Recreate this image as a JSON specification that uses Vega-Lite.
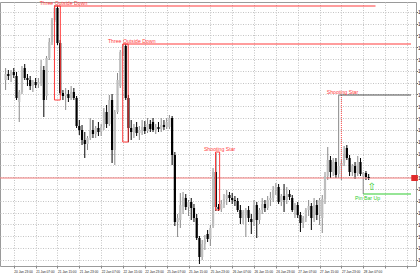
{
"$schema": "https://vega.github.io/schema/vega-lite/v6.json",
"width": 416, "height": 264,
"autosize": {"type": "none"},
"padding": {"left": 0, "top": 2, "right": 4, "bottom": 14},
"background": "white",
"config": {"view": {"stroke": "#9a9a9a", "strokeWidth": 1}, "font": "Liberation Sans"},
"resolve": {"axis": {"x": "independent", "y": "independent"}},
"datasets": {
"candles": [
{"i":0,"o":1.0886,"h":1.0898,"l":1.0876,"c":1.0892},
{"i":1,"o":1.0892,"h":1.0896,"l":1.0886,"c":1.0890},
{"i":2,"o":1.0890,"h":1.0896,"l":1.0884,"c":1.0894},
{"i":3,"o":1.0894,"h":1.0898,"l":1.0888,"c":1.0891},
{"i":4,"o":1.0890,"h":1.0894,"l":1.0866,"c":1.0868},
{"i":5,"o":1.0864,"h":1.0876,"l":1.0844,"c":1.0874},
{"i":6,"o":1.0874,"h":1.0900,"l":1.0872,"c":1.0896},
{"i":7,"o":1.0898,"h":1.0902,"l":1.0886,"c":1.0888},
{"i":8,"o":1.0888,"h":1.0892,"l":1.0880,"c":1.0886},
{"i":9,"o":1.0886,"h":1.0890,"l":1.0876,"c":1.0880},
{"i":10,"o":1.0880,"h":1.0886,"l":1.0874,"c":1.0884},
{"i":11,"o":1.0884,"h":1.0888,"l":1.0878,"c":1.0881},
{"i":12,"o":1.0882,"h":1.0888,"l":1.0878,"c":1.0884},
{"i":13,"o":1.0882,"h":1.0906,"l":1.0880,"c":1.0900},
{"i":14,"o":1.0896,"h":1.0900,"l":1.0849,"c":1.0866},
{"i":15,"o":1.0870,"h":1.0910,"l":1.0866,"c":1.0908},
{"i":16,"o":1.0908,"h":1.0928,"l":1.0906,"c":1.0924},
{"i":17,"o":1.0924,"h":1.0948,"l":1.0921,"c":1.0946},
{"i":18,"o":1.0946,"h":1.0961,"l":1.0944,"c":1.0958},
{"i":19,"o":1.0958,"h":1.0960,"l":1.0921,"c":1.0923},
{"i":20,"o":1.0923,"h":1.0926,"l":1.0871,"c":1.0873},
{"i":21,"o":1.0873,"h":1.0876,"l":1.0866,"c":1.0870},
{"i":22,"o":1.0870,"h":1.0878,"l":1.0856,"c":1.0872},
{"i":23,"o":1.0872,"h":1.0876,"l":1.0864,"c":1.0868},
{"i":24,"o":1.0868,"h":1.0880,"l":1.0866,"c":1.0874},
{"i":25,"o":1.0874,"h":1.0878,"l":1.0866,"c":1.0868},
{"i":26,"o":1.0868,"h":1.0870,"l":1.0838,"c":1.0840},
{"i":27,"o":1.0840,"h":1.0846,"l":1.0831,"c":1.0836},
{"i":28,"o":1.0836,"h":1.0841,"l":1.0821,"c":1.0826},
{"i":29,"o":1.0826,"h":1.0834,"l":1.0808,"c":1.0822},
{"i":30,"o":1.0822,"h":1.0830,"l":1.0816,"c":1.0828},
{"i":31,"o":1.0828,"h":1.0848,"l":1.0826,"c":1.0836},
{"i":32,"o":1.0836,"h":1.0846,"l":1.0828,"c":1.0832},
{"i":33,"o":1.0832,"h":1.0840,"l":1.0828,"c":1.0838},
{"i":34,"o":1.0838,"h":1.0844,"l":1.0830,"c":1.0834},
{"i":35,"o":1.0834,"h":1.0842,"l":1.0830,"c":1.0839},
{"i":36,"o":1.0839,"h":1.0858,"l":1.0836,"c":1.0854},
{"i":37,"o":1.0854,"h":1.0861,"l":1.0838,"c":1.0842},
{"i":38,"o":1.0842,"h":1.0871,"l":1.0840,"c":1.0866},
{"i":39,"o":1.0866,"h":1.0872,"l":1.0803,"c":1.0816},
{"i":40,"o":1.0816,"h":1.0856,"l":1.0801,"c":1.0854},
{"i":41,"o":1.0854,"h":1.0893,"l":1.0852,"c":1.0886},
{"i":42,"o":1.0880,"h":1.0916,"l":1.0878,"c":1.0914},
{"i":43,"o":1.0914,"h":1.0922,"l":1.0910,"c":1.0920},
{"i":44,"o":1.0920,"h":1.0922,"l":1.0866,"c":1.0868},
{"i":45,"o":1.0868,"h":1.0871,"l":1.0824,"c":1.0838},
{"i":46,"o":1.0838,"h":1.0846,"l":1.0826,"c":1.0834},
{"i":47,"o":1.0834,"h":1.0842,"l":1.0828,"c":1.0839},
{"i":48,"o":1.0839,"h":1.0844,"l":1.0830,"c":1.0833},
{"i":49,"o":1.0833,"h":1.0840,"l":1.0826,"c":1.0836},
{"i":50,"o":1.0836,"h":1.0846,"l":1.0831,"c":1.0839},
{"i":51,"o":1.0839,"h":1.0845,"l":1.0832,"c":1.0835},
{"i":52,"o":1.0835,"h":1.0848,"l":1.0833,"c":1.0842},
{"i":53,"o":1.0842,"h":1.0846,"l":1.0834,"c":1.0837},
{"i":54,"o":1.0844,"h":1.0848,"l":1.0834,"c":1.0836},
{"i":55,"o":1.0836,"h":1.0842,"l":1.0832,"c":1.0839},
{"i":56,"o":1.0839,"h":1.0844,"l":1.0834,"c":1.0837},
{"i":57,"o":1.0837,"h":1.0848,"l":1.0834,"c":1.0841},
{"i":58,"o":1.0841,"h":1.0846,"l":1.0836,"c":1.0839},
{"i":59,"o":1.0839,"h":1.0848,"l":1.0837,"c":1.0844},
{"i":60,"o":1.0839,"h":1.0851,"l":1.0837,"c":1.0848},
{"i":61,"o":1.0848,"h":1.0850,"l":1.0801,"c":1.0811},
{"i":62,"o":1.0811,"h":1.0814,"l":1.0740,"c":1.0744},
{"i":63,"o":1.0744,"h":1.0752,"l":1.0729,"c":1.0748},
{"i":64,"o":1.0746,"h":1.0773,"l":1.0738,"c":1.0761},
{"i":65,"o":1.0760,"h":1.0774,"l":1.0752,"c":1.0769},
{"i":66,"o":1.0768,"h":1.0772,"l":1.0756,"c":1.0759},
{"i":67,"o":1.0759,"h":1.0766,"l":1.0750,"c":1.0764},
{"i":68,"o":1.0764,"h":1.0768,"l":1.0746,"c":1.0758},
{"i":69,"o":1.0758,"h":1.0762,"l":1.0744,"c":1.0748},
{"i":70,"o":1.0748,"h":1.0752,"l":1.0726,"c":1.0728},
{"i":71,"o":1.0728,"h":1.0730,"l":1.0702,"c":1.0709},
{"i":72,"o":1.0709,"h":1.0726,"l":1.0706,"c":1.0722},
{"i":73,"o":1.0722,"h":1.0731,"l":1.0716,"c":1.0726},
{"i":74,"o":1.0732,"h":1.0736,"l":1.0724,"c":1.0727},
{"i":75,"o":1.0727,"h":1.0741,"l":1.0720,"c":1.0738},
{"i":76,"o":1.0740,"h":1.0798,"l":1.0738,"c":1.0794},
{"i":77,"o":1.0794,"h":1.0813,"l":1.0755,"c":1.0759},
{"i":78,"o":1.0759,"h":1.0762,"l":1.0755,"c":1.0757},
{"i":79,"o":1.0757,"h":1.0766,"l":1.0754,"c":1.0762},
{"i":80,"o":1.0762,"h":1.0772,"l":1.0758,"c":1.0767},
{"i":81,"o":1.0767,"h":1.0776,"l":1.0761,"c":1.0771},
{"i":82,"o":1.0771,"h":1.0774,"l":1.0764,"c":1.0768},
{"i":83,"o":1.0768,"h":1.0773,"l":1.0762,"c":1.0766},
{"i":84,"o":1.0766,"h":1.0770,"l":1.0760,"c":1.0765},
{"i":85,"o":1.0765,"h":1.0768,"l":1.0754,"c":1.0756},
{"i":86,"o":1.0756,"h":1.0761,"l":1.0742,"c":1.0748},
{"i":87,"o":1.0748,"h":1.0756,"l":1.0742,"c":1.0754},
{"i":88,"o":1.0751,"h":1.0758,"l":1.0729,"c":1.0756},
{"i":89,"o":1.0756,"h":1.0760,"l":1.0744,"c":1.0748},
{"i":90,"o":1.0747,"h":1.0752,"l":1.0732,"c":1.0744},
{"i":91,"o":1.0744,"h":1.0766,"l":1.0740,"c":1.0761},
{"i":92,"o":1.0761,"h":1.0764,"l":1.0728,"c":1.0746},
{"i":93,"o":1.0746,"h":1.0758,"l":1.0742,"c":1.0756},
{"i":94,"o":1.0756,"h":1.0768,"l":1.0752,"c":1.0762},
{"i":95,"o":1.0762,"h":1.0766,"l":1.0754,"c":1.0758},
{"i":96,"o":1.0758,"h":1.0770,"l":1.0756,"c":1.0766},
{"i":97,"o":1.0766,"h":1.0774,"l":1.0760,"c":1.0768},
{"i":98,"o":1.0768,"h":1.0780,"l":1.0764,"c":1.0776},
{"i":99,"o":1.0776,"h":1.0783,"l":1.0771,"c":1.0779},
{"i":100,"o":1.0779,"h":1.0782,"l":1.0762,"c":1.0764},
{"i":101,"o":1.0764,"h":1.0772,"l":1.0760,"c":1.0770},
{"i":102,"o":1.0770,"h":1.0782,"l":1.0754,"c":1.0766},
{"i":103,"o":1.0766,"h":1.0779,"l":1.0762,"c":1.0772},
{"i":104,"o":1.0772,"h":1.0776,"l":1.0766,"c":1.0769},
{"i":105,"o":1.0768,"h":1.0771,"l":1.0754,"c":1.0756},
{"i":106,"o":1.0756,"h":1.0763,"l":1.0748,"c":1.0761},
{"i":107,"o":1.0761,"h":1.0764,"l":1.0748,"c":1.0751},
{"i":108,"o":1.0751,"h":1.0754,"l":1.0734,"c":1.0743},
{"i":109,"o":1.0743,"h":1.0750,"l":1.0738,"c":1.0748},
{"i":110,"o":1.0748,"h":1.0758,"l":1.0744,"c":1.0756},
{"i":111,"o":1.0756,"h":1.0766,"l":1.0750,"c":1.0760},
{"i":112,"o":1.0760,"h":1.0763,"l":1.0736,"c":1.0748},
{"i":113,"o":1.0748,"h":1.0768,"l":1.0744,"c":1.0761},
{"i":114,"o":1.0761,"h":1.0766,"l":1.0746,"c":1.0751},
{"i":115,"o":1.0751,"h":1.0768,"l":1.0741,"c":1.0766},
{"i":116,"o":1.0748,"h":1.0771,"l":1.0733,"c":1.0767},
{"i":117,"o":1.0767,"h":1.0794,"l":1.0762,"c":1.0790},
{"i":118,"o":1.0790,"h":1.0819,"l":1.0786,"c":1.0806},
{"i":119,"o":1.0806,"h":1.0810,"l":1.0788,"c":1.0794},
{"i":120,"o":1.0794,"h":1.0808,"l":1.0790,"c":1.0804},
{"i":121,"o":1.0804,"h":1.0808,"l":1.0788,"c":1.0791},
{"i":122,"o":1.0792,"h":1.0871,"l":1.0788,"c":1.0800},
{"i":123,"o":1.0800,"h":1.0806,"l":1.0786,"c":1.0803},
{"i":124,"o":1.0803,"h":1.0820,"l":1.0800,"c":1.0811},
{"i":125,"o":1.0818,"h":1.0821,"l":1.0806,"c":1.0808},
{"i":126,"o":1.0808,"h":1.0811,"l":1.0790,"c":1.0794},
{"i":127,"o":1.0794,"h":1.0802,"l":1.0790,"c":1.0800},
{"i":128,"o":1.0800,"h":1.0804,"l":1.0787,"c":1.0793},
{"i":129,"o":1.0793,"h":1.0810,"l":1.0790,"c":1.0804},
{"i":130,"o":1.0804,"h":1.0808,"l":1.0790,"c":1.0792},
{"i":131,"o":1.0790,"h":1.0794,"l":1.0772,"c":1.0793},
{"i":132,"o":1.0793,"h":1.0795,"l":1.0786,"c":1.0789},
{"i":133,"o":1.0789,"h":1.0792,"l":1.0786,"c":1.0788}
],
"redLines": [{"x1":18,"x2":135.5,"p":1.0960},{"x1":43,"x2":148.5,"p":1.0922}],
"redBoxes": [{"x1":17.9,"x2":20.05,"p1":1.0960,"p2":1.0866},{"x1":42.9,"x2":44.9,"p1":1.0922,"p2":1.0824},{"x1":76.9,"x2":78.4,"p1":1.0814,"p2":1.0756}],
"redLabels": [{"x":21.2,"p":1.0960,"t":"Three Outside Down"},{"x":46.2,"p":1.0922,"t":"Three Outside Down"},{"x":78.4,"p":1.0814,"t":"Shooting Star"},{"x":123.4,"p":1.0871,"t":"Shooting Star"}]
},
"layer": [
{"data": {"name": "candles"},
 "mark": {"type": "rule", "strokeWidth": 1},
 "encoding": {
  "x": {"field": "i", "type": "quantitative", "scale": {"domain": [-0.22, 148.5], "nice": false, "zero": false},
    "axis": {"values": [3,11,19,27,35,43,51,59,67,75,83,91,99,107,115,123,131,139,147],
      "labelExpr": "['20 Jan 23:00','21 Jan 07:00','21 Jan 15:00','21 Jan 23:00','22 Jan 07:00','22 Jan 15:00','22 Jan 23:00','25 Jan 07:00','25 Jan 15:00','25 Jan 23:00','26 Jan 07:00','26 Jan 15:00','26 Jan 23:00','27 Jan 07:00','27 Jan 15:00','27 Jan 23:00','28 Jan 07:00'][round((datum.value-3)/8)] || ''",
      "labelFontSize": 3.2, "labelAlign": "left", "labelPadding": 1, "tickSize": 2, "tickColor": "#888", "domain": false, "grid": true, "gridColor": "#c4c4c4", "gridDash": [1, 1.5], "title": null, "labelColor": "#222", "labelOverlap": false, "labelBound": false, "labelFlush": false}},
  "y": {"field": "l", "type": "quantitative", "scale": {"domain": [1.07, 1.0964], "nice": false, "zero": false},
    "axis": {"orient": "right", "values": [1.07063,1.07181,1.07299,1.07417,1.07535,1.07653,1.07771,1.07889,1.08007,1.08125,1.08243,1.08361,1.08479,1.08597,1.08715,1.08833,1.08951,1.09069,1.09187,1.09305,1.09423,1.09541],
     "format": ".4f", "labelFontSize": 5, "labelPadding": 0, "tickSize": 1.5, "tickColor": "#666", "domain": false, "grid": true, "gridColor": "#c4c4c4", "gridDash": [1, 1.5], "title": null, "labelColor": "#222", "labelOverlap": false, "labelBound": false, "labelFlush": false}},
  "y2": {"field": "h"},
  "color": {"condition": {"test": "datum.c >= datum.o", "value": "#8a8a8a"}, "value": "#000000"}}},
{"data": {"values": [{"p":1.0788}]},
 "mark": {"type": "rule", "color": "#f07a7a", "strokeWidth": 1},
 "encoding": {"y": {"field": "p", "type": "quantitative", "scale": {"domain": [1.07, 1.0964], "nice": false, "zero": false}, "axis": null}}},
{"data": {"name": "candles"},
 "mark": {"type": "bar", "width": 2.2},
 "encoding": {
  "x": {"field": "i", "type": "quantitative", "scale": {"domain": [-0.22, 148.5], "nice": false, "zero": false}, "axis": null},
  "y": {"field": "o", "type": "quantitative", "scale": {"domain": [1.07, 1.0964], "nice": false, "zero": false}, "axis": null},
  "y2": {"field": "c"},
  "color": {"condition": {"test": "datum.c >= datum.o", "value": "#bdbdbd"}, "value": "#000000"}}},
{"data": {"name": "redLines"},
 "mark": {"type": "rule", "color": "#ff3c3c", "strokeWidth": 1.2},
 "encoding": {
  "x": {"field": "x1", "type": "quantitative", "scale": {"domain": [-0.22, 148.5], "nice": false, "zero": false}, "axis": null},
  "x2": {"field": "x2"},
  "y": {"field": "p", "type": "quantitative", "scale": {"domain": [1.07, 1.0964], "nice": false, "zero": false}, "axis": null}}},
{"data": {"name": "redBoxes"},
 "mark": {"type": "rect", "filled": false, "stroke": "#ff3c3c", "strokeWidth": 1},
 "encoding": {
  "x": {"field": "x1", "type": "quantitative", "scale": {"domain": [-0.22, 148.5], "nice": false, "zero": false}, "axis": null},
  "x2": {"field": "x2"},
  "y": {"field": "p1", "type": "quantitative", "scale": {"domain": [1.07, 1.0964], "nice": false, "zero": false}, "axis": null},
  "y2": {"field": "p2"}}},
{"data": {"values": [{"x":123,"p1":1.0871,"p2":1.0788}]},
 "mark": {"type": "rule", "color": "#ff5050", "strokeWidth": 1, "strokeDash": [1, 1]},
 "encoding": {
  "x": {"field": "x", "type": "quantitative", "scale": {"domain": [-0.22, 148.5], "nice": false, "zero": false}, "axis": null},
  "y": {"field": "p1", "type": "quantitative", "scale": {"domain": [1.07, 1.0964], "nice": false, "zero": false}, "axis": null},
  "y2": {"field": "p2"}}},
{"data": {"values": [{"x1":122.2,"x2":148.5,"p":1.0871}]},
 "mark": {"type": "rule", "color": "#505050", "strokeWidth": 1},
 "encoding": {
  "x": {"field": "x1", "type": "quantitative", "scale": {"domain": [-0.22, 148.5], "nice": false, "zero": false}, "axis": null},
  "x2": {"field": "x2"},
  "y": {"field": "p", "type": "quantitative", "scale": {"domain": [1.07, 1.0964], "nice": false, "zero": false}, "axis": null}}},
{"data": {"values": [{"x1":131,"x2":148.5,"p":1.0772}]},
 "mark": {"type": "rule", "color": "#2ecc2e", "strokeWidth": 1.2},
 "encoding": {
  "x": {"field": "x1", "type": "quantitative", "scale": {"domain": [-0.22, 148.5], "nice": false, "zero": false}, "axis": null},
  "x2": {"field": "x2"},
  "y": {"field": "p", "type": "quantitative", "scale": {"domain": [1.07, 1.0964], "nice": false, "zero": false}, "axis": null}}},
{"data": {"name": "redLabels"},
 "mark": {"type": "text", "color": "#ff3c3c", "fontSize": 5.2, "baseline": "bottom", "align": "center", "dy": -0.5},
 "encoding": {
  "x": {"field": "x", "type": "quantitative", "scale": {"domain": [-0.22, 148.5], "nice": false, "zero": false}, "axis": null},
  "y": {"field": "p", "type": "quantitative", "scale": {"domain": [1.07, 1.0964], "nice": false, "zero": false}, "axis": null},
  "text": {"field": "t"}}},
{"data": {"values": [{"x":132.6,"p":1.0771,"t":"Pin Bar Up"}]},
 "mark": {"type": "text", "color": "#2ecc2e", "fontSize": 5.2, "baseline": "top", "align": "center", "dy": 1},
 "encoding": {
  "x": {"field": "x", "type": "quantitative", "scale": {"domain": [-0.22, 148.5], "nice": false, "zero": false}, "axis": null},
  "y": {"field": "p", "type": "quantitative", "scale": {"domain": [1.07, 1.0964], "nice": false, "zero": false}, "axis": null},
  "text": {"field": "t"}}},
{"data": {"values": [{"x":134.1,"p":1.0779,"t":"⇧"}]},
 "mark": {"type": "text", "color": "#2ecc2e", "fontSize": 10, "baseline": "middle", "align": "center", "font": "DejaVu Sans"},
 "encoding": {
  "x": {"field": "x", "type": "quantitative", "scale": {"domain": [-0.22, 148.5], "nice": false, "zero": false}, "axis": null},
  "y": {"field": "p", "type": "quantitative", "scale": {"domain": [1.07, 1.0964], "nice": false, "zero": false}, "axis": null},
  "text": {"field": "t"}}},
{"data": {"values": [{"x1":148.6,"x2":151,"p1":1.0791,"p2":1.0785}]},
 "mark": {"type": "rect", "color": "#e02a2a"},
 "encoding": {
  "x": {"field": "x1", "type": "quantitative", "scale": {"domain": [-0.22, 148.5], "nice": false, "zero": false}, "axis": null},
  "x2": {"field": "x2"},
  "y": {"field": "p1", "type": "quantitative", "scale": {"domain": [1.07, 1.0964], "nice": false, "zero": false}, "axis": null},
  "y2": {"field": "p2"}}}
]
}
